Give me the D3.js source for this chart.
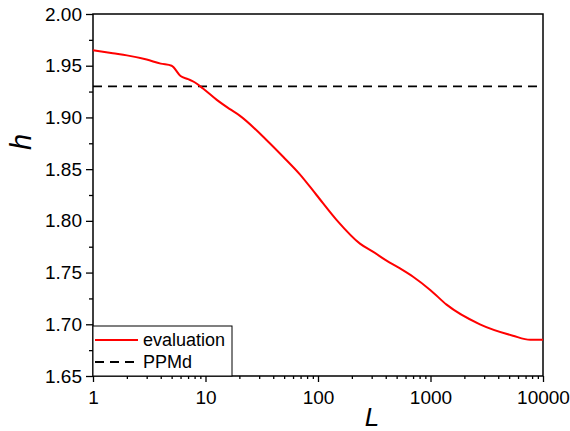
<!DOCTYPE html>
<html>
<head>
<meta charset="utf-8">
<script src="https://cdn.jsdelivr.net/npm/d3@7"></script>
<style>
body { margin: 0; background: #fff; }
text { font-family: "Liberation Sans", Arial, sans-serif; }
</style>
</head>
<body>
<div id="chart"></div>
<script>
// valeurs
var L = [1, 1.5, 2, 3, 4, 5, 6, 7, 8, 9.5, 12.6, 16.5, 20, 35, 49, 69, 97, 146, 236, 310, 400, 536, 700, 1000, 1390, 2750, 5400, 7700, 10000];
var evaluation = [1.965, 1.962, 1.960, 1.956, 1.952, 1.950, 1.940, 1.937, 1.934, 1.928, 1.917, 1.908, 1.902, 1.878, 1.862, 1.845, 1.825, 1.801, 1.778, 1.770, 1.762, 1.754, 1.746, 1.733, 1.719, 1.700, 1.689, 1.685, 1.685];
var ppmd = 1.93;
var xTicks = [1, 10, 100, 1000, 10000];
var yTicks = [1.65, 1.70, 1.75, 1.80, 1.85, 1.90, 1.95, 2.00];

var width = 570, height = 431;
var mLeft = 93, mRight = 543, mTop = 14, mBottom = 376;

var svg = d3.select("#chart").append("svg")
	.attr("width", width)
	.attr("height", height);

var x = d3.scaleLog().domain([1, 10000]).range([mLeft, mRight]);
var y = d3.scaleLinear().domain([1.65, 2.00]).range([mBottom, mTop]);

// ticks mineurs
var xMinor = [];
for (var p = 0; p < 4; p++) for (var m = 2; m < 10; m++) xMinor.push(m * Math.pow(10, p));
var yMinor = d3.range(1.675, 2.0, 0.05);

var xAxis = svg.append("g")
	.attr("transform", "translate(0," + mBottom + ")")
	.call(d3.axisBottom(x).tickValues(xTicks).tickFormat(d3.format("d")).tickSize(6).tickSizeOuter(0));
svg.append("g")
	.attr("transform", "translate(0," + mBottom + ")")
	.call(d3.axisBottom(x).tickValues(xMinor).tickFormat("").tickSize(3).tickSizeOuter(0));

var yAxis = svg.append("g")
	.attr("transform", "translate(" + mLeft + ",0)")
	.call(d3.axisLeft(y).tickValues(yTicks).tickFormat(d3.format(".2f")).tickSize(7).tickSizeOuter(0));
svg.append("g")
	.attr("transform", "translate(" + mLeft + ",0)")
	.call(d3.axisLeft(y).tickValues(yMinor).tickFormat("").tickSize(4).tickSizeOuter(0));

svg.selectAll(".domain").remove();
svg.selectAll(".tick line").attr("stroke", "#000").attr("stroke-width", 1.3);
xAxis.selectAll("text").attr("font-size", "19px").attr("dy", "1.0em").attr("fill", "#000");
yAxis.selectAll("text").attr("font-size", "19px").attr("x", -11).attr("fill", "#000");

// cadre
svg.append("rect")
	.attr("x", mLeft).attr("y", mTop)
	.attr("width", mRight - mLeft).attr("height", mBottom - mTop)
	.attr("fill", "none").attr("stroke", "#000").attr("stroke-width", 1.5);

// PPMd
svg.append("line")
	.attr("x1", x(1)).attr("x2", x(10000))
	.attr("y1", y(ppmd)).attr("y2", y(ppmd))
	.attr("stroke", "#000").attr("stroke-width", 1.8)
	.attr("stroke-dasharray", "9,6");

// courbe evaluation
var line = d3.line()
	.x((d, i) => x(L[i]))
	.y(d => y(d))
	.curve(d3.curveMonotoneX);

svg.append("path")
	.datum(evaluation)
	.attr("d", line)
	.attr("fill", "none")
	.attr("stroke", "#ff0000")
	.attr("stroke-width", 2);

// titres des axes
svg.append("text")
	.attr("x", 372).attr("y", 426)
	.attr("text-anchor", "middle")
	.attr("font-size", "26px")
	.attr("font-style", "italic")
	.text("L");

svg.append("text")
	.attr("transform", "translate(31,142) rotate(-90)")
	.attr("text-anchor", "middle")
	.attr("font-size", "29px")
	.attr("font-style", "italic")
	.text("h");

// legende
var lg = svg.append("g");
lg.append("rect")
	.attr("x", mLeft).attr("y", 326)
	.attr("width", 139).attr("height", mBottom - 326)
	.attr("fill", "#fff").attr("stroke", "#000").attr("stroke-width", 1);
lg.append("line")
	.attr("x1", 95).attr("x2", 138).attr("y1", 340).attr("y2", 340)
	.attr("stroke", "#ff0000").attr("stroke-width", 2);
lg.append("line")
	.attr("x1", 95).attr("x2", 138).attr("y1", 362).attr("y2", 362)
	.attr("stroke", "#000").attr("stroke-width", 1.8)
	.attr("stroke-dasharray", "9,6");
lg.append("text").attr("x", 143).attr("y", 346).attr("font-size", "18px").text("evaluation");
lg.append("text").attr("x", 143).attr("y", 368).attr("font-size", "18px").text("PPMd");
</script>
</body>
</html>
